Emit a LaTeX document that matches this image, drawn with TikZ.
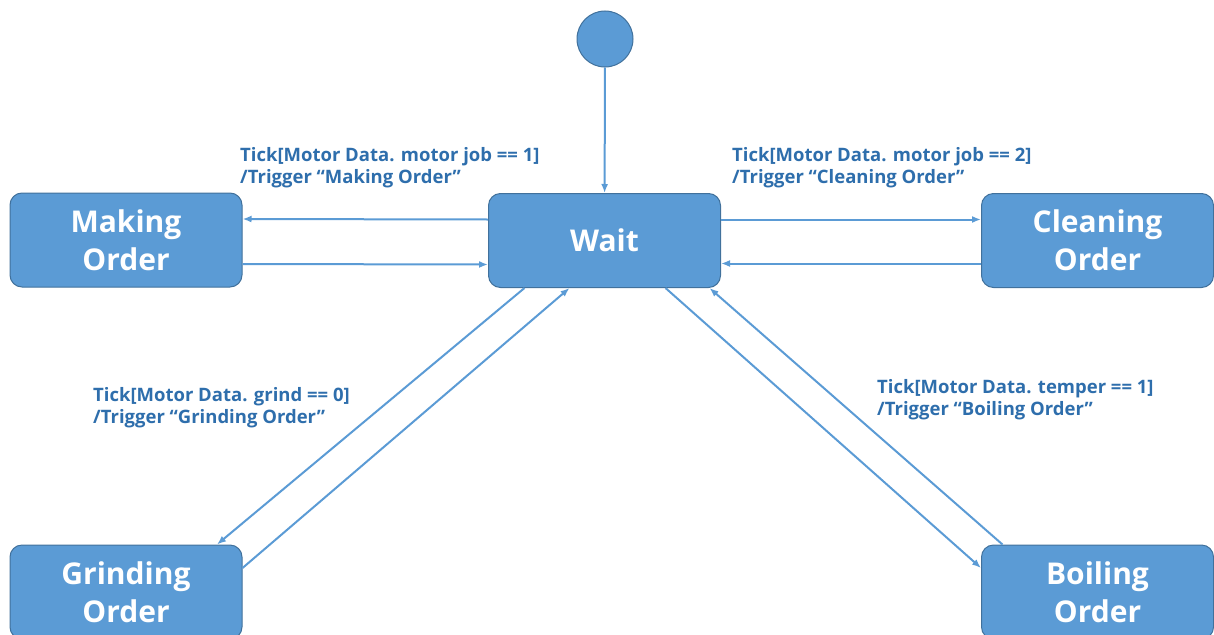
\documentclass[tikz,border=0pt]{standalone}
\usepackage{fontspec}
\setmainfont{Open Sans}
\usetikzlibrary{arrows.meta}

\definecolor{boxfill}{RGB}{91,155,213}
\definecolor{boxline}{RGB}{65,113,156}
\definecolor{guardtext}{RGB}{46,110,172}

\tikzset{
  statebox/.style = {draw=boxline, fill=boxfill, line width=1pt, rounded corners=12pt,
    minimum width=232pt, minimum height=94pt, align=center, text=white,
    font=\bfseries\fontsize{30}{38}\selectfont},
  initstate/.style = {circle, draw=boxline, fill=boxfill, line width=1pt, minimum size=56pt},
  trans/.style = {draw=boxfill, line width=2pt, -{Latex[length=9pt,width=7pt]}},
  guard/.style = {text=guardtext, align=left, anchor=west, inner sep=0pt,
    font=\bfseries\fontsize{18.5}{22}\selectfont}
}

\begin{document}
\begin{tikzpicture}[x=1pt, y=-1pt]
  \useasboundingbox (0,0) rectangle (1214,634);

  % States
  \node[initstate] (init) at (605,39) {};
  \node[statebox] (wait) at (604.5,240.5) {Wait};
  \foreach \name/\x/\y/\first/\second in {
      making/126/240/Making/Order,
      cleaning/1097.5/240.5/Cleaning/Order,
      grinding/126/592/Grinding/Order,
      boiling/1097.5/592/Boiling/Order
    } {
      \node[statebox] (\name) at (\x,\y) {\first\\\second};
    };

  % Transitions
  \draw[trans] (init) -- (wait);
  \draw[trans] ([yshift=21pt]wait.west) -- ([yshift=21pt]making.east);
  \draw[trans] ([yshift=-24pt]making.east) -- ([yshift=-24pt]wait.west);
  \draw[trans] ([yshift=21pt]wait.east) -- ([yshift=21pt]cleaning.west);
  \draw[trans] ([yshift=-23pt]cleaning.west) -- ([yshift=-23pt]wait.east);
  \draw[trans] ([xshift=-80pt]wait.south) -- ([xshift=91pt]grinding.north);
  \draw[trans] ([yshift=24pt]grinding.east) -- ([xshift=-35pt]wait.south);
  \draw[trans] ([xshift=61pt]wait.south) -- ([yshift=24pt]boiling.west);
  \draw[trans] ([xshift=-95pt]boiling.north) -- ([xshift=105pt]wait.south);

  % Guards
  \node[guard] (g1) at (240,168) {Tick[Motor Data. motor job == 1]\\/Trigger “Making Order”};
  \node[guard] (g2) at (732,168) {Tick[Motor Data. motor job == 2]\\/Trigger “Cleaning Order”};
  \node[guard] (g3) at (93,408) {Tick[Motor Data. grind == 0]\\/Trigger “Grinding Order”};
  \node[guard] (g4) at (877,400) {Tick[Motor Data. temper == 1]\\/Trigger “Boiling Order”};
\end{tikzpicture}
\end{document}
